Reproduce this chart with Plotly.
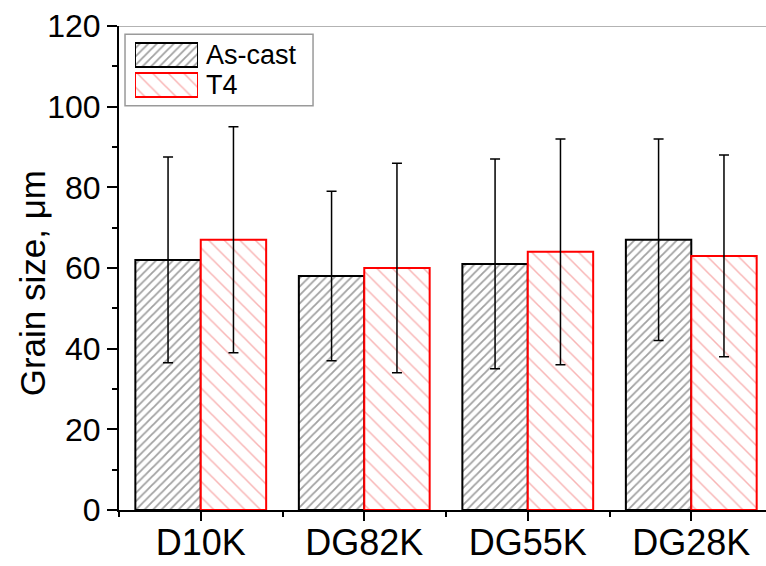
import plotly.graph_objects as go

categories = ["D10K", "DG82K", "DG55K", "DG28K"]
x_pos = [0, 1, 2, 3]
ascast = [62, 58, 61, 67]
ascast_err = [25.5, 21, 26, 25]
t4 = [67, 60, 64, 63]
t4_err = [28, 26, 28, 25]
series_names = ["As-cast", "T4"]
legend_len = [1, 1]
y_ticks = [0, 20, 40, 60, 80, 100, 120]
y_title = "Grain size, μm"

FONT = "Liberation Sans, Arial, sans-serif"
BLACK_FG = "#444444"
RED_FG = "rgba(238,70,70,0.8)"

fig = go.Figure()

fig.add_trace(go.Bar(
    x=x_pos, y=ascast, name=series_names[0],
    marker=dict(color="white", line=dict(color="black", width=2),
                pattern=dict(shape="/", size=6, solidity=0.3, fgcolor=BLACK_FG, bgcolor="white", fillmode="overlay")),
    error_y=dict(type="data", array=ascast_err, visible=True, color="black", thickness=1.5, width=5),
    showlegend=False,
))
fig.add_trace(go.Bar(
    x=x_pos, y=t4, name=series_names[1],
    marker=dict(color="white", line=dict(color="red", width=2),
                pattern=dict(shape="\\", size=11, solidity=0.14, fgcolor=RED_FG, bgcolor="white", fillmode="overlay")),
    error_y=dict(type="data", array=t4_err, visible=True, color="black", thickness=1.5, width=5),
    showlegend=False,
))

# custom legend swatches in an inset axis
fig.add_trace(go.Bar(
    y=series_names, x=legend_len, orientation="h",
    xaxis="x2", yaxis="y2", showlegend=False, hoverinfo="skip",
    marker=dict(color="white", line=dict(color=["black", "red"], width=2),
                pattern=dict(shape=["/", "\\"], size=[6, 11], solidity=[0.3, 0.14],
                             fgcolor=[BLACK_FG, RED_FG], bgcolor="white", fillmode="overlay")),
))

fig.update_layout(
    width=766, height=566,
    margin=dict(l=119, r=0, t=26, b=56, autoexpand=False),
    paper_bgcolor="white", plot_bgcolor="white",
    barmode="group", bargap=0.2, bargroupgap=0,
    font=dict(family=FONT, color="black", size=28),
    xaxis=dict(
        range=[-0.5, 3.457], tickmode="array", tickvals=x_pos, ticktext=categories,
        showline=True, linecolor="black", linewidth=2,
        ticks="outside", ticklen=9, tickwidth=1.5, tickcolor="black",
        tickfont=dict(size=36), showgrid=False, zeroline=False, automargin=False,
        ticklabelstandoff=-9,
        minor=dict(tick0=0.5, dtick=1, ticks="outside", ticklen=5, tickwidth=1.5, tickcolor="black"),
    ),
    yaxis=dict(
        range=[0, 120], tickmode="array", tickvals=y_ticks,
        showline=True, linecolor="black", linewidth=2,
        ticks="outside", ticklen=10, tickwidth=1.5, tickcolor="black",
        tickfont=dict(size=32), showgrid=False, zeroline=False, automargin=False,
        minor=dict(dtick=10, ticks="outside", ticklen=5, tickwidth=1.5, tickcolor="black"),
    ),
    xaxis2=dict(domain=[0.0247, 0.1221], anchor="y2", range=[0, 1], visible=False),
    yaxis2=dict(domain=[0.847, 0.971], anchor="x2", side="right", autorange="reversed",
                tickmode="array", tickvals=series_names, ticktext=series_names,
                showline=False, showgrid=False, zeroline=False, ticks="", automargin=False,
                ticklabelstandoff=7, tickfont=dict(size=27)),
    annotations=[
        dict(text=y_title, xref="paper", yref="paper", x=-0.134, y=0.469,
             xanchor="center", yanchor="middle", textangle=-90, showarrow=False,
             font=dict(size=35, family=FONT, color="black")),
    ],
    shapes=[
        dict(type="line", xref="paper", yref="y", x0=0, x1=1, y0=120, y1=120,
             line=dict(color="#9a9a9a", width=1.5)),
        dict(type="rect", xref="paper", yref="paper", x0=0.0093, x1=0.2999, y0=0.835, y1=0.983,
             line=dict(color="#9a9a9a", width=1.5), fillcolor="rgba(0,0,0,0)", layer="below"),
    ],
)

fig.write_html("out.html", config={"displayModeBar": False},
               post_script="document.body.style.margin='0';document.body.style.overflow='hidden';")
